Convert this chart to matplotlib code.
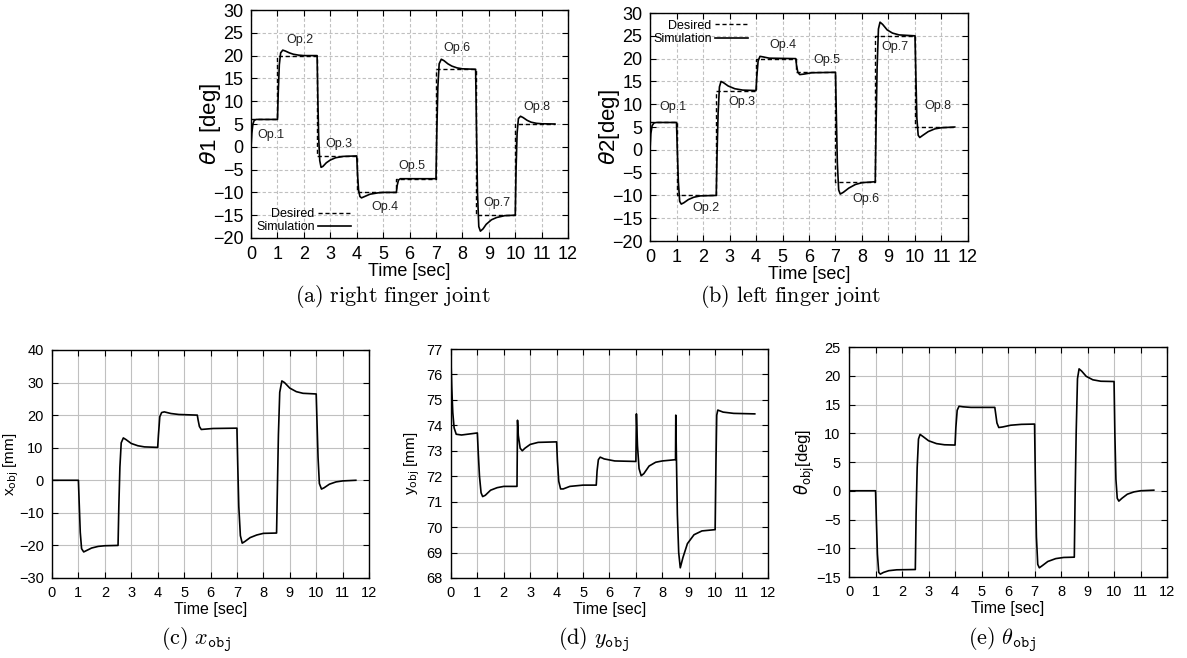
import matplotlib
matplotlib.use("Agg")
import matplotlib.pyplot as plt

plt.rcParams['font.family'] = ['Liberation Sans', 'DejaVu Sans']
plt.rcParams['mathtext.fontset'] = 'dejavusans'

# ---------------- data ----------------
step_times = [0, 1, 2.5, 4, 5.5, 7, 8.5, 10, 11.5]

th1_desired = [6, 20, -2, -10, -7, 17, -15, 5, 5]
th1_t = [0.0, 0.03, 0.07, 0.12, 0.2, 1.0, 1.03, 1.07, 1.12, 1.2, 1.3, 1.45, 1.6, 1.8, 2.0, 2.5,
         2.53, 2.56, 2.6, 2.65, 2.72, 2.85, 3.0, 3.2, 3.5, 4.0, 4.03, 4.07, 4.12, 4.18, 4.3, 4.5,
         4.8, 5.0, 5.5, 5.53, 5.58, 5.65, 7.0, 7.03, 7.07, 7.12, 7.2, 7.3, 7.45, 7.6, 7.8, 8.0,
         8.5, 8.53, 8.57, 8.62, 8.68, 8.78, 8.9, 9.1, 9.3, 9.6, 10.0, 10.03, 10.07, 10.12, 10.2,
         10.3, 10.45, 10.6, 10.8, 11.0, 11.5]
th1_sim = [0, 3, 5, 5.8, 6.0, 6.0, 12, 18, 20.6, 21.2, 21.0, 20.6, 20.3, 20.1, 20.0, 20.0,
           10, 2, -3, -4.5, -4.3, -3.5, -2.9, -2.4, -2.1, -2.0, -6, -9.5, -10.9, -11.2, -10.9, -10.4,
           -10.1, -10.0, -10.0, -8.5, -7.3, -7.0, -7.0, 3, 13, 18.2, 19.2, 18.9, 18.2, 17.7, 17.3, 17.1,
           17.0, 5, -10, -17.5, -18.5, -18.0, -17.0, -16.0, -15.5, -15.1, -15.0, -5, 3, 6.2, 6.7,
           6.4, 5.8, 5.4, 5.15, 5.05, 5.0]
th1_ops = ["Op.1", "Op.2", "Op.3", "Op.4", "Op.5", "Op.6", "Op.7", "Op.8"]
th1_op_t = [0.76, 1.86, 3.33, 5.08, 6.1, 7.8, 9.3, 10.83]
th1_op_v = [2.6, 23.4, 0.6, -13.2, -4.2, 21.7, -12.3, 8.7]

th2_desired = [6, -10, 13, 20, 17, -7, 25, 5, 5]
th2_t = [0.0, 0.03, 0.08, 0.15, 0.25, 1.0, 1.03, 1.07, 1.12, 1.18, 1.28, 1.45, 1.65, 1.9, 2.5,
         2.53, 2.57, 2.62, 2.68, 2.78, 2.95, 3.2, 3.5, 4.0, 4.03, 4.08, 4.15, 4.25, 4.5, 5.5,
         5.53, 5.58, 5.65, 5.8, 6.1, 7.0, 7.03, 7.07, 7.12, 7.18, 7.3, 7.5, 7.75, 8.0, 8.5,
         8.53, 8.57, 8.62, 8.68, 8.78, 8.95, 9.15, 9.4, 10.0, 10.03, 10.07, 10.12, 10.18, 10.3,
         10.5, 10.75, 11.0, 11.5]
th2_sim = [0, 3.5, 5.3, 5.9, 6.0, 6.0, 0, -7, -11.3, -11.9, -11.6, -10.9, -10.4, -10.1, -10.0,
           -1, 8, 13.8, 15.0, 14.7, 14.0, 13.4, 13.1, 13.0, 16, 19.5, 20.5, 20.4, 20.1, 20.0,
           18.5, 17.0, 16.5, 16.6, 16.9, 17.0, 8, -3, -8.8, -9.7, -9.3, -8.4, -7.6, -7.2, -7.0,
           5, 18, 26.5, 28.0, 27.5, 26.3, 25.6, 25.2, 25.0, 17, 7, 3.2, 2.7, 3.2,
           4.0, 4.6, 4.85, 5.0]
th2_ops = ["Op.1", "Op.2", "Op.3", "Op.4", "Op.5", "Op.6", "Op.7", "Op.8"]
th2_op_t = [0.87, 2.11, 3.47, 5.02, 6.68, 8.15, 9.25, 10.87]
th2_op_v = [9.4, -12.8, 10.5, 23.0, 19.7, -10.7, 22.6, 9.6]

x_t = [0.0, 1.0, 1.03, 1.07, 1.12, 1.2, 1.3, 1.5, 1.75, 2.0, 2.5, 2.53, 2.57, 2.62, 2.7, 2.8,
       3.0, 3.25, 3.5, 4.0, 4.03, 4.08, 4.15, 4.25, 4.5, 4.8, 5.5, 5.53, 5.58, 5.65, 5.8, 6.1,
       7.0, 7.03, 7.07, 7.13, 7.2, 7.3, 7.5, 7.75, 8.0, 8.5, 8.53, 8.57, 8.62, 8.7, 8.8, 9.0,
       9.25, 9.5, 10.0, 10.03, 10.07, 10.12, 10.2, 10.3, 10.5, 10.75, 11.0, 11.5]
x_obj = [0, 0, -7, -16, -21, -22, -21.6, -20.8, -20.3, -20.1, -20.0, -8, 4, 11.5, 13.0, 12.5,
         11.3, 10.6, 10.25, 10.1, 14, 19.5, 20.8, 21.0, 20.5, 20.2, 20.0, 18.5, 16.5, 15.6, 15.7, 15.9,
         16.0, 5, -8, -17, -19.3, -18.8, -17.6, -16.8, -16.3, -16.2, -3, 14, 27, 30.5, 30.0, 28.3,
         27.2, 26.7, 26.5, 18, 7, -1, -2.7, -2.3, -1.2, -0.5, -0.2, 0]

y_t = [0.0, 0.03, 0.07, 0.12, 0.2, 0.4, 1.0, 1.03, 1.08, 1.14, 1.2, 1.3, 1.5, 1.75, 2.0, 2.5,
       2.52, 2.55, 2.62, 2.7, 2.8, 3.0, 3.3, 4.0, 4.03, 4.08, 4.15, 4.25, 4.5, 5.0, 5.5,
       5.53, 5.58, 5.65, 5.8, 6.2, 7.0, 7.02, 7.06, 7.12, 7.2, 7.3, 7.5, 7.75, 8.0, 8.5,
       8.51, 8.53, 8.57, 8.62, 8.68, 8.78, 8.95, 9.2, 9.5, 10.0, 10.03, 10.06, 10.1, 10.3, 10.7, 11.5]
y_obj = [76.6, 75.5, 74.5, 73.9, 73.65, 73.62, 73.7, 73.0, 72.0, 71.35, 71.2, 71.25, 71.45, 71.55, 71.6, 71.6,
         74.2, 73.6, 73.1, 73.0, 73.1, 73.25, 73.33, 73.35, 72.6, 71.8, 71.5, 71.5, 71.6, 71.65, 71.65,
         72.2, 72.65, 72.75, 72.68, 72.6, 72.58, 74.45, 73.2, 72.3, 72.02, 72.1, 72.4, 72.55, 72.6, 72.65,
         74.4, 73.0, 70.5, 69.0, 68.4, 68.8, 69.35, 69.7, 69.85, 69.9, 72.5, 74.4, 74.6, 74.52, 74.47, 74.45]

tho_t = [0.0, 1.0, 1.03, 1.07, 1.12, 1.18, 1.3, 1.5, 1.8, 2.5, 2.53, 2.57, 2.62, 2.68, 2.8, 3.0,
         3.3, 3.6, 4.0, 4.03, 4.08, 4.15, 4.3, 4.6, 5.5, 5.53, 5.58, 5.65, 5.8, 6.1, 6.5, 7.0,
         7.03, 7.07, 7.12, 7.18, 7.3, 7.5, 7.8, 8.1, 8.5, 8.53, 8.57, 8.62, 8.68, 8.78, 8.95, 9.2,
         9.5, 10.0, 10.03, 10.07, 10.12, 10.18, 10.3, 10.5, 10.75, 11.0, 11.5]
th_obj = [0, 0, -5, -11, -14.2, -14.5, -14.2, -13.9, -13.75, -13.7, -4, 4, 9.0, 9.8, 9.4, 8.7,
          8.2, 8.0, 7.95, 11, 14.0, 14.7, 14.6, 14.5, 14.5, 13.5, 11.8, 11.0, 11.1, 11.4, 11.55, 11.6,
          2, -8, -12.8, -13.4, -13.0, -12.3, -11.8, -11.6, -11.55, -1, 10, 19.5, 21.2, 20.8, 19.9, 19.3,
          19.05, 19.0, 10, 2, -1.3, -1.8, -1.3, -0.6, -0.2, 0.0, 0.1]

# ---------------- figure ----------------
fig = plt.figure(figsize=(11.87, 6.58), dpi=100)

def style(ax, ylim, yticks, tick_fs, grid_ls, pad):
    ax.set_xlim(0, 12)
    ax.set_ylim(*ylim)
    ax.set_xticks(range(0, 13))
    ax.set_yticks(yticks)
    ax.tick_params(direction='in', top=True, right=True, length=4, width=0.8,
                   labelsize=tick_fs, pad=pad, colors='black')
    ax.grid(True, color='#c0c0c0', linestyle=grid_ls, linewidth=0.8)
    ax.set_axisbelow(True)
    for s in ax.spines.values():
        s.set_linewidth(1.0)

# (a)
axa = fig.add_axes([0.2115, 0.6383, 0.2671, 0.3465])
style(axa, (-20, 30), range(-20, 31, 5), 13, (0, (3, 2)), 5.5)
la, = axa.step(step_times, th1_desired, where='post', color='black', linestyle=(0, (3, 2)), linewidth=1.0)
lb, = axa.plot(th1_t, th1_sim, color='black', linewidth=1.2)
for s, t, v in zip(th1_ops, th1_op_t, th1_op_v):
    axa.text(t, v, s, fontsize=9, ha='center', va='center', color='#222222')
axa.set_xlabel("Time [sec]", fontsize=13, labelpad=0)
axa.set_ylabel(r"$\theta$1 [deg]", fontsize=16)
axa.yaxis.set_label_coords(-0.09, 0.5)
axa.legend([la, lb], ["Desired", "Simulation"], markerfirst=False, frameon=False,
           loc='lower right', bbox_to_anchor=(0.315, 0.02), fontsize=9, handlelength=2.6,
           handletextpad=0.3, labelspacing=0.1, borderpad=0, borderaxespad=0)

# (b)
axb = fig.add_axes([0.5476, 0.6337, 0.2679, 0.3465])
style(axb, (-20, 30), range(-20, 31, 5), 13, (0, (3, 2)), 5.5)
la2, = axb.step(step_times, th2_desired, where='post', color='black', linestyle=(0, (3, 2)), linewidth=1.0)
lb2, = axb.plot(th2_t, th2_sim, color='black', linewidth=1.2)
for s, t, v in zip(th2_ops, th2_op_t, th2_op_v):
    axb.text(t, v, s, fontsize=9, ha='center', va='center', color='#222222')
axb.set_xlabel("Time [sec]", fontsize=13, labelpad=0)
axb.set_ylabel(r"$\theta$2[deg]", fontsize=16)
axb.yaxis.set_label_coords(-0.087, 0.5)
axb.legend([la2, lb2], ["Desired", "Simulation"], markerfirst=False, frameon=False,
           loc='upper right', bbox_to_anchor=(0.308, 0.97), fontsize=9, handlelength=2.6,
           handletextpad=0.3, labelspacing=0.1, borderpad=0, borderaxespad=0)

# (c)
axc = fig.add_axes([0.0438, 0.1216, 0.2671, 0.3465])
style(axc, (-30, 40), range(-30, 41, 10), 10.5, '-', 6)
axc.plot(x_t, x_obj, color='black', linewidth=1.2)
axc.set_xlabel("Time [sec]", fontsize=11.5, labelpad=1)
axc.set_ylabel(r"x$_{\rm obj}$ [mm]", fontsize=11)
axc.yaxis.set_label_coords(-0.098, 0.5)

# (d)
axd = fig.add_axes([0.3799, 0.1216, 0.2671, 0.348])
style(axd, (68, 77), range(68, 78), 10.5, '-', 6)
axd.plot(y_t, y_obj, color='black', linewidth=1.2)
axd.set_xlabel("Time [sec]", fontsize=11.5, labelpad=1)
axd.set_ylabel(r"y$_{\rm obj}$ [mm]", fontsize=11)
axd.yaxis.set_label_coords(-0.092, 0.5)

# (e)
axe = fig.add_axes([0.7153, 0.1231, 0.2679, 0.3495])
style(axe, (-15, 25), range(-15, 26, 5), 10.5, '-', 6)
axe.plot(tho_t, th_obj, color='black', linewidth=1.2)
axe.set_xlabel("Time [sec]", fontsize=11.5, labelpad=1)
axe.set_ylabel(r"$\theta_{\rm obj}$[deg]", fontsize=12)
axe.yaxis.set_label_coords(-0.10, 0.5)

# captions
cap_kw = dict(ha='center', va='center', fontsize=16, math_fontfamily='cm')
fig.text(0.331, 0.549, r"$\mathrm{(a)\ right\ finger\ joint}$", **cap_kw)
fig.text(0.666, 0.549, r"$\mathrm{(b)\ left\ finger\ joint}$", **cap_kw)
fig.text(0.165, 0.027, r"$\mathrm{(c)}\ x_{\mathtt{obj}}$", **cap_kw)
fig.text(0.500, 0.027, r"$\mathrm{(d)}\ y_{\mathtt{obj}}$", **cap_kw)
fig.text(0.844, 0.027, r"$\mathrm{(e)}\ \theta_{\mathtt{obj}}$", **cap_kw)

fig.savefig("out.png", dpi=100)
